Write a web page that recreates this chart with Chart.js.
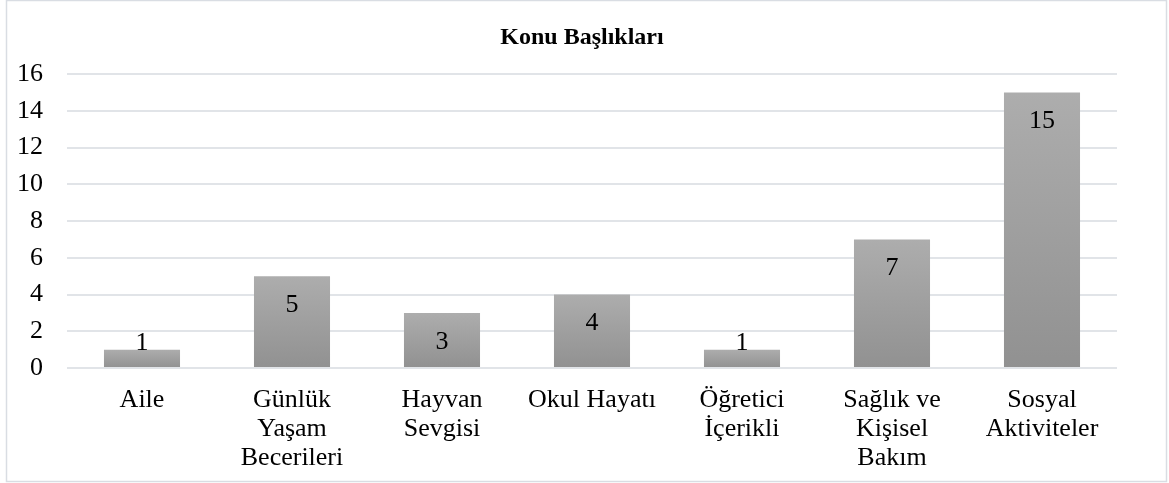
<!DOCTYPE html>
<html>
<head>
<meta charset="utf-8">
<script src="https://cdn.jsdelivr.net/npm/chart.js@4/dist/chart.umd.min.js"></script>
<style>
html,body{margin:0;padding:0;background:#fff;}
#wrap{position:absolute;left:0;top:0;width:1169px;height:483px;}
</style>
</head>
<body>
<div id="wrap"><canvas id="c" width="1169" height="483"></canvas></div>
<script>
const categories = [
  ['Aile'],
  ['Günlük', 'Yaşam', 'Becerileri'],
  ['Hayvan', 'Sevgisi'],
  ['Okul Hayatı'],
  ['Öğretici', 'İçerikli'],
  ['Sağlık ve', 'Kişisel', 'Bakım'],
  ['Sosyal', 'Aktiviteler']
];
const values = [1, 5, 3, 4, 1, 7, 15];
const chartTitle = 'Konu Başlıkları';
const yMin = 0, yMax = 16, yStep = 2;

const FONT = "'Liberation Serif', 'Times New Roman', serif";

const borderPlugin = {
  id: 'outerBorder',
  beforeDraw(chart) {
    const ctx = chart.ctx;
    ctx.save();
    ctx.fillStyle = '#ffffff';
    ctx.fillRect(0, 0, chart.width, chart.height);
    ctx.strokeStyle = '#d9dde3';
    ctx.lineWidth = 1.5;
    ctx.strokeRect(6.5, 0.5, 1160, 481);
    ctx.restore();
  },
  afterDraw(chart) {
    const ctx = chart.ctx;
    ctx.save();
    ctx.font = 'bold 24px ' + FONT;
    ctx.fillStyle = '#000000';
    ctx.textAlign = 'center';
    ctx.textBaseline = 'middle';
    ctx.fillText(chartTitle, 582, 37.5);
    ctx.restore();
  }
};

const labelPlugin = {
  id: 'barLabels',
  afterDatasetsDraw(chart) {
    const ctx = chart.ctx;
    const meta = chart.getDatasetMeta(0);
    const base = chart.scales.y.getPixelForValue(0);
    ctx.save();
    ctx.font = '26px ' + FONT;
    ctx.fillStyle = '#000000';
    ctx.textAlign = 'center';
    ctx.textBaseline = 'middle';
    meta.data.forEach((bar, i) => {
      const y = Math.min(bar.y + 29, base - 25);
      ctx.fillText(String(values[i]), bar.x, y);
    });
    ctx.restore();
  }
};

function barGradient(context) {
  const chart = context.chart;
  const area = chart.chartArea;
  if (!area || context.type !== 'data') return '#a0a0a0';
  const ys = chart.scales.y;
  const top = ys.getPixelForValue(context.parsed.y);
  const bottom = ys.getPixelForValue(0);
  if (!isFinite(top) || !isFinite(bottom) || top === bottom) return '#a0a0a0';
  const g = chart.ctx.createLinearGradient(0, top, 0, bottom);
  g.addColorStop(0, '#adadad');
  g.addColorStop(1, '#919191');
  return g;
}

new Chart(document.getElementById('c'), {
  type: 'bar',
  data: {
    labels: categories,
    datasets: [{
      data: values,
      backgroundColor: barGradient,
      borderWidth: 0,
      barPercentage: 0.507,
      categoryPercentage: 1.0
    }]
  },
  options: {
    responsive: false,
    animation: false,
    devicePixelRatio: 1,
    layout: { padding: { left: 0, right: 52, top: 74, bottom: 0 } },
    plugins: {
      legend: { display: false },
      tooltip: { enabled: false },
      title: { display: false }
    },
    scales: {
      x: {
        grid: { display: false, drawTicks: false },
        border: { display: false },
        afterFit(scale) { scale.height = 115; },
        ticks: {
          color: '#000000',
          font: { family: FONT, size: 26, lineHeight: '29px' },
          padding: 18,
          maxRotation: 0,
          autoSkip: false
        }
      },
      y: {
        min: yMin,
        max: yMax,
        grid: { color: '#e1e4e8', lineWidth: 2, drawTicks: false },
        border: { display: false },
        afterFit(scale) { scale.width = 67; },
        ticks: {
          stepSize: yStep,
          color: '#000000',
          font: { family: FONT, size: 26 },
          padding: 24
        }
      }
    }
  },
  plugins: [borderPlugin, labelPlugin]
});
</script>
</body>
</html>
